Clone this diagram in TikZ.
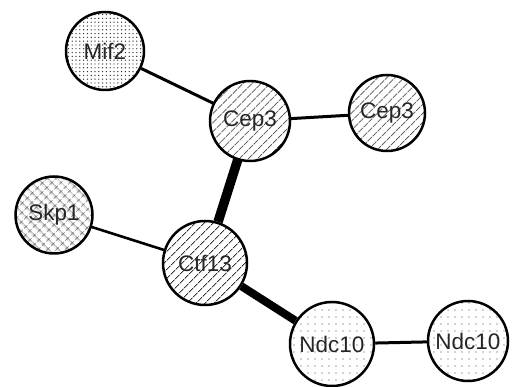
\documentclass[tikz,border=0pt]{standalone}
\usepackage{fontspec}
\setmainfont{Liberation Sans}
\usetikzlibrary{patterns.meta}
\begin{document}
\begin{tikzpicture}[x=1pt,y=-1pt,
  prot/.style={circle,draw=black,line width=2.5pt,inner sep=0pt,font=\fontsize{22.5}{24}\selectfont,text=black!85},
  densedots/.style={prot,minimum size=78pt,pattern={Dots[radius=0.7pt,distance=3.8pt]},pattern color=black!80},
  sparsedots/.style={prot,minimum size=84pt,pattern={Dots[radius=0.7pt,distance=7pt]},pattern color=black!75},
  hatch/.style={prot,minimum size=80pt,pattern={Lines[angle=45,distance=6.5pt,line width=0.8pt]},pattern color=black!80},
  cross/.style={prot,minimum size=77pt,pattern={Hatch[angle=45,distance=6.5pt,line width=0.7pt]},pattern color=black!75},
  thin/.style={line width=3pt,black},
  thick/.style={line width=9.5pt,black}]
\useasboundingbox (0,0) rectangle (520,387);
\node[densedots] (mif2) at (105,51) {Mif2};
\node[hatch] (cep3a) at (250,121) {Cep3};
\node[hatch,minimum size=76pt] (cep3b) at (387,113) {Cep3};
\node[cross] (skp1) at (54,215) {Skp1};
\node[hatch,minimum size=84pt] (ctf13) at (205,263) {Ctf13};
\node[sparsedots] (ndc10a) at (332,344) {Ndc10};
\node[sparsedots,minimum size=80pt] (ndc10b) at (468,341) {Ndc10};
\draw[thin] (mif2) -- (cep3a);
\draw[thin] (cep3a) -- (cep3b);
\draw[thin,line width=2.6pt] (skp1) -- (ctf13);
\draw[thick] (cep3a) -- (ctf13);
\draw[thick,line width=8pt] (ctf13) -- (ndc10a);
\draw[thin] (ndc10a) -- (ndc10b);
\end{tikzpicture}
\end{document}
